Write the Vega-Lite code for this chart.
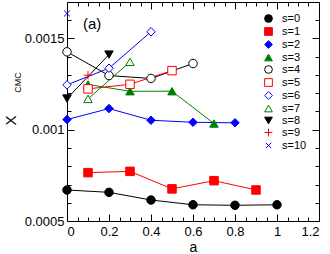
{
  "$schema": "https://vega.github.io/schema/vega-lite/v6.json",
  "width": 252,
  "height": 219,
  "autosize": "none",
  "padding": {"left": 67, "top": 2, "right": 11, "bottom": 33},
  "title": {"text": "(a)", "anchor": "start", "frame": "group", "offset": 0, "dx": 16, "dy": 42, "baseline": "alphabetic", "fontSize": 15, "fontWeight": "normal", "font": "Liberation Sans", "color": "black"},
  "data": {"values": [
    {"s": "s=0", "a": 0, "x": 0.00067}, {"s": "s=0", "a": 0.2, "x": 0.000657}, {"s": "s=0", "a": 0.4, "x": 0.000615}, {"s": "s=0", "a": 0.6, "x": 0.000589}, {"s": "s=0", "a": 0.8, "x": 0.000586}, {"s": "s=0", "a": 1.0, "x": 0.000589},
    {"s": "s=1", "a": 0.1, "x": 0.000765}, {"s": "s=1", "a": 0.3, "x": 0.000772}, {"s": "s=1", "a": 0.5, "x": 0.000676}, {"s": "s=1", "a": 0.7, "x": 0.000721}, {"s": "s=1", "a": 0.9, "x": 0.00067},
    {"s": "s=2", "a": 0, "x": 0.001056}, {"s": "s=2", "a": 0.2, "x": 0.001116}, {"s": "s=2", "a": 0.4, "x": 0.001052}, {"s": "s=2", "a": 0.6, "x": 0.001041}, {"s": "s=2", "a": 0.8, "x": 0.001038},
    {"s": "s=3", "a": 0.1, "x": 0.001248}, {"s": "s=3", "a": 0.3, "x": 0.001211}, {"s": "s=3", "a": 0.5, "x": 0.001211}, {"s": "s=3", "a": 0.7, "x": 0.001034},
    {"s": "s=4", "a": 0, "x": 0.001427}, {"s": "s=4", "a": 0.2, "x": 0.001297}, {"s": "s=4", "a": 0.4, "x": 0.001281}, {"s": "s=4", "a": 0.6, "x": 0.001363},
    {"s": "s=5", "a": 0.1, "x": 0.001224}, {"s": "s=5", "a": 0.3, "x": 0.001249}, {"s": "s=5", "a": 0.5, "x": 0.001324},
    {"s": "s=6", "a": 0, "x": 0.001246}, {"s": "s=6", "a": 0.2, "x": 0.001337}, {"s": "s=6", "a": 0.4, "x": 0.001537},
    {"s": "s=7", "a": 0.1, "x": 0.001169}, {"s": "s=7", "a": 0.3, "x": 0.001372},
    {"s": "s=8", "a": 0, "x": 0.001171}, {"s": "s=8", "a": 0.2, "x": 0.001412},
    {"s": "s=9", "a": 0.1, "x": 0.001299},
    {"s": "s=10", "a": 0, "x": 0.001637}
  ]},
  "layer": [
    {
      "layer": [
        {
          "mark": {"type": "line", "strokeWidth": 1},
          "encoding": {
            "x": {"field": "a", "type": "quantitative", "scale": {"domain": [0, 1.2], "nice": false, "zero": false},
              "axis": {"values": [0, 0.2, 0.4, 0.6, 0.8, 1, 1.2], "format": "~g", "ticks": false, "domain": false, "grid": false, "labelBaseline": "alphabetic", "labelPadding": 14.5, "title": "a", "titleFontSize": 14, "titleBaseline": "alphabetic", "titleY": 30, "titleFontWeight": "normal"}},
            "y": {"field": "x", "type": "quantitative", "scale": {"domain": [0.0005, 0.0017], "nice": false, "zero": false},
              "axis": {"values": [0.0005, 0.001, 0.0015], "format": "~g", "ticks": false, "domain": false, "grid": false, "labelPadding": 3, "title": "X", "titleFontSize": 15, "titleFontWeight": "normal", "titleBaseline": "alphabetic", "titleAlign": "center", "titleAngle": 270, "titleX": -52, "titleY": 118}},
            "stroke": {"field": "s", "type": "nominal", "title": null,
              "scale": {"domain": ["s=0","s=1","s=2","s=3","s=4","s=5","s=6","s=7","s=8","s=9","s=10"],
                "range": ["black","red","blue","#008000","black","red","blue","#008000","black","red","blue"]}}
          }
        },
        {
          "mark": {"type": "point", "strokeWidth": 1, "opacity": 1, "size": 72},
          "encoding": {
            "x": {"field": "a", "type": "quantitative", "scale": {"domain": [0, 1.2], "nice": false, "zero": false},
              "axis": {"values": [0, 0.2, 0.4, 0.6, 0.8, 1, 1.2], "format": "~g", "ticks": false, "domain": false, "grid": false, "labelBaseline": "alphabetic", "labelPadding": 14.5, "title": "a", "titleFontSize": 14, "titleBaseline": "alphabetic", "titleY": 30, "titleFontWeight": "normal"}},
            "y": {"field": "x", "type": "quantitative", "scale": {"domain": [0.0005, 0.0017], "nice": false, "zero": false},
              "axis": {"values": [0.0005, 0.001, 0.0015], "format": "~g", "ticks": false, "domain": false, "grid": false, "labelPadding": 3, "title": "X", "titleFontSize": 15, "titleFontWeight": "normal", "titleBaseline": "alphabetic", "titleAlign": "center", "titleAngle": 270, "titleX": -52, "titleY": 118}},
            "shape": {"field": "s", "type": "nominal", "title": null,
              "scale": {"domain": ["s=0","s=1","s=2","s=3","s=4","s=5","s=6","s=7","s=8","s=9","s=10"],
                "range": ["circle","square","diamond","triangle-up","circle","square","diamond","triangle-up","triangle-down","M-1,0L1,0M0,-1L0,1","M-0.7,-0.7L0.7,0.7M-0.7,0.7L0.7,-0.7"]}},
            "fill": {"field": "s", "type": "nominal", "title": null,
              "scale": {"domain": ["s=0","s=1","s=2","s=3","s=4","s=5","s=6","s=7","s=8","s=9","s=10"],
                "range": ["black","red","blue","#008000","white","white","white","white","black","white","white"]}},
            "stroke": {"field": "s", "type": "nominal", "title": null,
              "scale": {"domain": ["s=0","s=1","s=2","s=3","s=4","s=5","s=6","s=7","s=8","s=9","s=10"],
                "range": ["black","red","blue","#008000","black","red","blue","#008000","black","red","blue"]}}
          }
        }
      ]
    },
    {
      "mark": {"type": "point", "opacity": 0},
      "encoding": {
        "x": {"field": "a", "type": "quantitative", "scale": {"domain": [0, 1.2], "nice": false, "zero": false},
          "axis": {"orient": "bottom", "values": [0, 0.2, 0.4, 0.6, 0.8, 1, 1.2], "labels": false, "domain": false, "grid": false, "tickSize": -7, "title": null}},
        "y": {"field": "x", "type": "quantitative", "scale": {"domain": [0.0005, 0.0017], "nice": false, "zero": false},
          "axis": {"orient": "left", "values": [0.0005, 0.001, 0.0015], "labels": false, "domain": false, "grid": false, "tickSize": -7, "title": "CMC", "titleFontSize": 9, "titleFontWeight": "normal", "titleBaseline": "alphabetic", "titleAlign": "center", "titleAngle": 270, "titleX": -47, "titleY": 80}}
      }
    },
    {
      "mark": {"type": "point", "opacity": 0},
      "encoding": {
        "x": {"field": "a", "type": "quantitative", "scale": {"domain": [0, 1.2], "nice": false, "zero": false},
          "axis": {"orient": "bottom", "values": [0.05,0.1,0.15,0.25,0.3,0.35,0.45,0.5,0.55,0.65,0.7,0.75,0.85,0.9,0.95,1.05,1.1,1.15], "labels": false, "domain": false, "grid": false, "tickSize": -4, "title": null}},
        "y": {"field": "x", "type": "quantitative", "scale": {"domain": [0.0005, 0.0017], "nice": false, "zero": false},
          "axis": {"orient": "left", "values": [0.0006,0.0007,0.0008,0.0009,0.0011,0.0012,0.0013,0.0014,0.0016,0.0017], "labels": false, "domain": false, "grid": false, "tickSize": -4, "title": null}}
      }
    },
    {
      "mark": {"type": "point", "opacity": 0},
      "encoding": {
        "x": {"field": "a", "type": "quantitative", "scale": {"domain": [0, 1.2], "nice": false, "zero": false},
          "axis": {"orient": "top", "values": [0, 0.2, 0.4, 0.6, 0.8, 1, 1.2], "labels": false, "domain": false, "grid": false, "tickSize": -7, "title": null}},
        "y": {"field": "x", "type": "quantitative", "scale": {"domain": [0.0005, 0.0017], "nice": false, "zero": false},
          "axis": {"orient": "right", "values": [0.0005, 0.001, 0.0015], "labels": false, "domain": false, "grid": false, "tickSize": -7, "title": null}}
      }
    },
    {
      "mark": {"type": "point", "opacity": 0},
      "encoding": {
        "x": {"field": "a", "type": "quantitative", "scale": {"domain": [0, 1.2], "nice": false, "zero": false},
          "axis": {"orient": "top", "values": [0.05,0.1,0.15,0.25,0.3,0.35,0.45,0.5,0.55,0.65,0.7,0.75,0.85,0.9,0.95,1.05,1.1,1.15], "labels": false, "domain": false, "grid": false, "tickSize": -4, "title": null}},
        "y": {"field": "x", "type": "quantitative", "scale": {"domain": [0.0005, 0.0017], "nice": false, "zero": false},
          "axis": {"orient": "right", "values": [0.0006,0.0007,0.0008,0.0009,0.0011,0.0012,0.0013,0.0014,0.0016,0.0017], "labels": false, "domain": false, "grid": false, "tickSize": -4, "title": null}}
      }
    }
  ],
  "resolve": {"scale": {"x": "independent", "y": "independent"}},
  "config": {
    "font": "Liberation Sans",
    "view": {"stroke": "black", "strokeWidth": 1},
    "axis": {"labelFontSize": 13, "labelColor": "black", "titleColor": "black", "tickColor": "black", "tickWidth": 1, "labelFont": "Liberation Sans", "titleFont": "Liberation Sans"},
    "legend": {"orient": "none", "legendX": 196, "legendY": 11, "title": null, "labelFontSize": 11, "labelColor": "black", "labelFont": "Liberation Sans", "symbolSize": 60, "symbolStrokeWidth": 1, "rowPadding": 0, "padding": 0, "labelOffset": 8}
  }
}
